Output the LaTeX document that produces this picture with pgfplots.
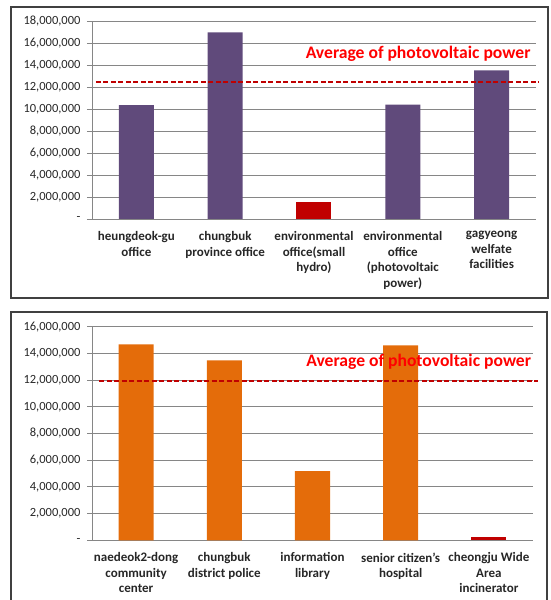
\documentclass[border=0pt]{standalone}
\usepackage{pgfplots}
\pgfplotsset{compat=1.18}
\usepackage{fontspec}
\setmainfont{Carlito}
\definecolor{purp}{HTML}{604A7B}
\definecolor{dred}{HTML}{C00000}
\definecolor{orng}{HTML}{E46C0A}
\definecolor{gridc}{HTML}{868686}
\definecolor{txt}{HTML}{262626}
\pgfplotsset{
  common/.style={
    scale only axis,
    ymin=0,
    xmin=-0.5, xmax=4.5,
    scaled y ticks=false,
    axis x line*=bottom, axis y line*=left,
    axis line style={gridc, line width=0.8pt},
    ymajorgrids, grid style={gridc, line width=0.8pt},
    xtick={0,1,2,3,4},
    xticklabel style={font=\fontsize{13}{15.5}\selectfont\bfseries, color=txt, align=center, anchor=north, yshift=-4pt},
    extra x ticks={-0.5,0.5,1.5,2.5,3.5,4.5},
    extra x tick labels={},
    extra x tick style={grid=none, major tick length=5pt, tick style={gridc, line width=0.8pt}, tick align=outside},
    major x tick style={draw=none},
    ytick style={gridc, line width=0.8pt},
    tick align=outside, major tick length=5pt,
    yticklabel style={font=\fontsize{12.5}{13}\selectfont, color=txt, xshift=-3pt},
    ybar, bar width=35pt, bar shift=0pt,
    clip=false,
  }
}
\begin{document}
\begin{tikzpicture}[x=1pt,y=1pt]
\useasboundingbox (0,0) rectangle (551,600);
% frames
\draw[color=black!75, line width=1.3pt] (11,593) rectangle (548,302);
\draw[color=black!75, line width=1.3pt] (11,288) rectangle (547,-5);
% top axis
\begin{axis}[common,
  at={(92pt,381pt)}, anchor=south west,
  width=444pt, height=198pt,
  ymax=18000000,
  ytick={0,2000000,4000000,6000000,8000000,10000000,12000000,14000000,16000000,18000000},
  yticklabels={{-},{2,000,000},{4,000,000},{6,000,000},{8,000,000},{10,000,000},{12,000,000},{14,000,000},{16,000,000},{18,000,000}},
  xticklabels={{heungdeok-gu\\office},{chungbuk\\province office},{environmental\\office(small\\hydro)},{environmental\\office\\(photovoltaic\\power)},{gagyeong\\welfate\\facilities}},
]
\addplot[fill=purp, draw=none] coordinates {(0,10360000) (1,16970000) (3,10390000) (4,13520000)};
\addplot[fill=dred, draw=none] coordinates {(2,1550000)};
\addplot[ybar=0pt, sharp plot, draw=dred, line width=1.8pt, dash pattern=on 5pt off 2.5pt, forget plot] coordinates {(-0.455,12480000) (4.53,12480000)};
\node[anchor=east, text=red, font=\fontsize{17.6}{20}\selectfont\bfseries, inner sep=0pt] at (axis cs:4.44,15000000) {Average of photovoltaic power};
\end{axis}
% bottom axis
\begin{axis}[common,
  at={(92pt,59.7pt)}, anchor=south west,
  width=441pt, height=213.6pt,
  ymax=16000000,
  ytick={0,2000000,4000000,6000000,8000000,10000000,12000000,14000000,16000000},
  yticklabels={{-},{2,000,000},{4,000,000},{6,000,000},{8,000,000},{10,000,000},{12,000,000},{14,000,000},{16,000,000}},
  xticklabels={{naedeok2-dong\\community\\center},{chungbuk\\district police},{information\\library},{senior citizen’s\\hospital},{cheongju Wide\\Area\\incinerator}},
]
\addplot[fill=orng, draw=none] coordinates {(0,14680000) (1,13480000) (2,5190000) (3,14600000)};
\addplot[fill=dred, draw=none] coordinates {(4,220000)};
\addplot[ybar=0pt, sharp plot, draw=dred, line width=1.8pt, dash pattern=on 5pt off 2.5pt, forget plot] coordinates {(-0.42,11910000) (4.56,11910000)};
\node[anchor=east, text=red, font=\fontsize{17.6}{20}\selectfont\bfseries, inner sep=0pt] at (axis cs:4.48,13360000) {Average of photovoltaic power};
\end{axis}
\end{tikzpicture}
\end{document}
